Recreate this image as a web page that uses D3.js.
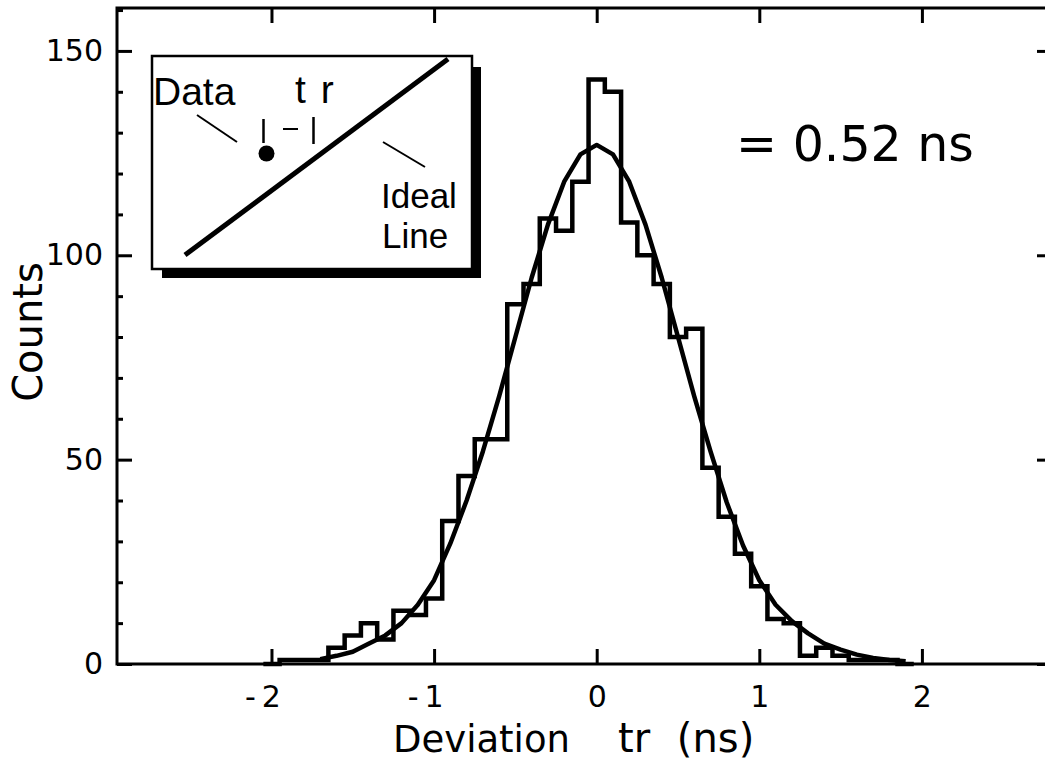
<!DOCTYPE html>
<html>
<head>
<meta charset="utf-8">
<script src="https://cdn.jsdelivr.net/npm/d3@7"></script>
<style>
  body { margin: 0; background: #fff; }
  text { fill: #000; }
</style>
</head>
<body>
<div id="chart"></div>
<script>
// histogram bins (centre, ns) and counts
const binCenters = [-2.0, -1.9, -1.8, -1.7, -1.6, -1.5, -1.4, -1.3, -1.2, -1.1,
                    -1.0, -0.9, -0.8, -0.7, -0.6, -0.5, -0.4, -0.3, -0.2, -0.1,
                     0.0,  0.1,  0.2,  0.3,  0.4,  0.5,  0.6,  0.7,  0.8,  0.9,
                     1.0,  1.1,  1.2,  1.3,  1.4,  1.5,  1.6,  1.7,  1.8,  1.9];
const counts = [0, 1, 1, 1, 4, 7, 10, 6, 13, 12,
                16, 35, 46, 55, 55, 88, 93, 109, 106, 118,
                143, 140, 108, 100, 93, 80, 82, 48, 36, 27,
                19, 11, 10, 2, 4, 2, 1, 1, 1, 0];
const binWidth = 0.1;

// fitted curve, points
const fitX = [-1.7, -1.6, -1.5, -1.4, -1.3, -1.2, -1.1, -1.0, -0.9, -0.8,
              -0.7, -0.6, -0.5, -0.4, -0.3, -0.2, -0.1, 0.0, 0.1, 0.2,
               0.3, 0.4, 0.5, 0.6, 0.7, 0.8, 0.9, 1.0, 1.1, 1.2,
               1.3, 1.4, 1.5, 1.6, 1.7, 1.8, 1.9];
const fitY = [1.2, 2, 3, 5, 7, 10, 14.5, 20.5, 29.5, 40,
              52, 65.5, 80, 94.5, 107.5, 118, 124.7, 127, 124.7, 118,
              107.5, 94.5, 80, 65.5, 52, 39.5, 29, 20.5, 14.5, 10.5,
              7.5, 5, 3.5, 2.3, 1.5, 1, 0.7];

const xTicks = [-2, -1, 0, 1, 2];
const yTicks = [0, 50, 100, 150];
const yMinorTicks = d3.range(0, 161, 10).filter(v => v % 50 !== 0);

const width = 1045, height = 778;
const plotLeft = 117, plotRight = 1052, plotTop = 8, plotBottom = 664;

const svg = d3.select("#chart").append("svg")
    .attr("width", width)
    .attr("height", height)
    .style("background", "#fff");

const x = d3.scaleLinear().domain([-2.95, 2.8]).range([plotLeft, plotRight]);
const y = d3.scaleLinear().domain([0, 160.5]).range([plotBottom, plotTop]);

const tickFont = "DejaVu Sans";

// frame
svg.append("rect")
   .attr("x", plotLeft).attr("y", plotTop)
   .attr("width", plotRight - plotLeft).attr("height", plotBottom - plotTop)
   .attr("fill", "none").attr("stroke", "#000").attr("stroke-width", 3);

// axes (ticks inside); plain hyphen for negatives as in the original
const xBottom = d3.axisBottom(x).tickValues(xTicks).tickSize(-15).tickPadding(22)
                  .tickFormat(d => d < 0 ? "-" + Math.abs(d) : String(d));
const xTop = d3.axisTop(x).tickValues(xTicks).tickSize(-15).tickFormat("");
const yLeft = d3.axisLeft(y).tickValues(yTicks).tickSize(-15).tickPadding(14)
                .tickFormat(d3.format("d"));
const yRight = d3.axisRight(y).tickValues(yTicks).tickSize(-15).tickFormat("");
const yLeftMinor = d3.axisLeft(y).tickValues(yMinorTicks).tickSize(-6).tickFormat("");
const yRightMinor = d3.axisRight(y).tickValues(yMinorTicks).tickSize(-6).tickFormat("");

function styleAxis(g) {
    g.select(".domain").remove();
    g.selectAll(".tick line").attr("stroke", "#000").attr("stroke-width", 3);
    g.selectAll(".tick text")
     .attr("font-family", tickFont)
     .attr("font-size", 30)
     .attr("fill", "#000");
}

svg.append("g").attr("transform", `translate(0,${plotBottom})`).call(xBottom).call(styleAxis)
   .selectAll(".tick text")
   .filter(d => d < 0)
   .attr("letter-spacing", 6)
   .attr("dx", -6);
svg.append("g").attr("transform", `translate(0,${plotTop})`).call(xTop).call(styleAxis);
svg.append("g").attr("transform", `translate(${plotLeft},0)`).call(yLeft).call(styleAxis);
svg.append("g").attr("transform", `translate(${plotRight},0)`).call(yRight).call(styleAxis);
svg.append("g").attr("transform", `translate(${plotLeft},0)`).call(yLeftMinor).call(styleAxis);
svg.append("g").attr("transform", `translate(${plotRight},0)`).call(yRightMinor).call(styleAxis);

// histogram as a step line
const stepPts = [[binCenters[0] - binWidth / 2, 0]];
binCenters.forEach((c, i) => {
    stepPts.push([c - binWidth / 2, counts[i]]);
    stepPts.push([c + binWidth / 2, counts[i]]);
});
stepPts.push([binCenters[binCenters.length - 1] + binWidth / 2, 0]);

svg.append("path")
   .datum(stepPts)
   .attr("fill", "none")
   .attr("stroke", "#000")
   .attr("stroke-width", 4.5)
   .attr("stroke-linejoin", "miter")
   .attr("d", d3.line().x(d => x(d[0])).y(d => y(d[1])));

// fit curve
svg.append("path")
   .datum(fitX.map((v, i) => [v, fitY[i]]))
   .attr("fill", "none")
   .attr("stroke", "#000")
   .attr("stroke-width", 4.5)
   .attr("stroke-linejoin", "round")
   .attr("d", d3.line().x(d => x(d[0])).y(d => y(d[1])));

// axis titles
svg.append("text")
   .attr("x", 393).attr("y", 752)
   .attr("font-family", tickFont).attr("font-size", 37)
   .text("Deviation");
svg.append("text")
   .attr("x", 618).attr("y", 752)
   .attr("font-family", tickFont).attr("font-size", 40)
   .attr("word-spacing", 14)
   .text("tr (ns)");
svg.append("text")
   .attr("transform", "translate(42,332) rotate(-90)")
   .attr("text-anchor", "middle")
   .attr("font-family", tickFont).attr("font-size", 40)
   .text("Counts");

// sigma annotation
svg.append("text")
   .attr("x", 736).attr("y", 161)
   .attr("font-family", tickFont).attr("font-size", 49)
   .text("= 0.52 ns");

// inset sketch
const inset = svg.append("g");
const insetFont = "Liberation Sans";
inset.append("rect")
     .attr("x", 162).attr("y", 67).attr("width", 319).attr("height", 211)
     .attr("fill", "#000");
inset.append("rect")
     .attr("x", 152).attr("y", 56).attr("width", 320).attr("height", 213)
     .attr("fill", "#fff").attr("stroke", "#000").attr("stroke-width", 2.5);
inset.append("line")
     .attr("x1", 185).attr("y1", 255).attr("x2", 448).attr("y2", 59)
     .attr("stroke", "#000").attr("stroke-width", 5);
inset.append("circle")
     .attr("cx", 266.5).attr("cy", 153.5).attr("r", 8)
     .attr("fill", "#000");
inset.append("line")
     .attr("x1", 197).attr("y1", 115).attr("x2", 237).attr("y2", 142)
     .attr("stroke", "#000").attr("stroke-width", 2);
inset.append("line")
     .attr("x1", 383).attr("y1", 142).attr("x2", 425).attr("y2", 167)
     .attr("stroke", "#000").attr("stroke-width", 2);
inset.append("line")
     .attr("x1", 263.5).attr("y1", 119).attr("x2", 263.5).attr("y2", 143)
     .attr("stroke", "#000").attr("stroke-width", 2.5);
inset.append("line")
     .attr("x1", 313.5).attr("y1", 117).attr("x2", 313.5).attr("y2", 144)
     .attr("stroke", "#000").attr("stroke-width", 2.5);
inset.append("line")
     .attr("x1", 283).attr("y1", 129).attr("x2", 298).attr("y2", 129)
     .attr("stroke", "#000").attr("stroke-width", 2);
inset.append("text")
     .attr("x", 153).attr("y", 105)
     .attr("font-family", insetFont).attr("font-size", 39)
     .text("Data");
inset.append("text")
     .attr("x", 295).attr("y", 103)
     .attr("font-family", insetFont).attr("font-size", 39)
     .attr("word-spacing", 4)
     .text("t r");
const ideal = inset.append("text")
     .attr("font-family", insetFont).attr("font-size", 35);
ideal.append("tspan").attr("x", 381).attr("y", 208).text("Ideal");
ideal.append("tspan").attr("x", 382).attr("dy", 40).text("Line");
</script>
</body>
</html>
